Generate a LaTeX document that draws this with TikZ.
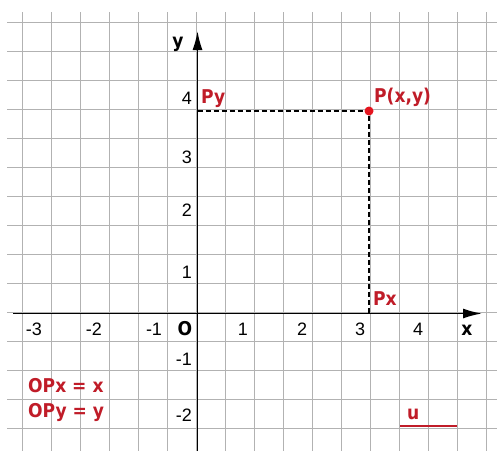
\documentclass[tikz,border=0pt]{standalone}
\usepackage{fontspec}
\setmainfont{Liberation Sans}
\newfontfamily\lblfont[FakeStretch=0.9]{DejaVu Sans}
\usetikzlibrary{arrows.meta}
\definecolor{gridc}{RGB}{178,178,178}
\definecolor{lblred}{RGB}{192,28,40}
\definecolor{dotred}{RGB}{228,20,30}
\begin{document}
\begin{tikzpicture}[x=1pt,y=-1pt,
  gridline/.style={gridc,line width=1.3pt},
  axis/.style={black,line width=1.8pt,-{Latex[length=19pt,width=10pt]}},
  guide/.style={black,line width=1.2pt,dash pattern=on 5pt off 3pt},
  tick/.style={font=\fontsize{18}{18}\selectfont,inner sep=0pt,anchor=base},
  ytick/.style={tick,anchor=base east},
  redlbl/.style={font=\lblfont\bfseries\fontsize{19}{19}\selectfont,text=lblred,inner sep=0pt,anchor=base west},
  axlbl/.style={font=\lblfont\bfseries\fontsize{19}{19}\selectfont,inner sep=0pt,anchor=base},
  dot/.style={circle,fill=dotred,inner sep=0pt,minimum size=9pt}]
\useasboundingbox (0,0) rectangle (497,451);
\fill[white] (0,0) rectangle (497,451);
% grid
\foreach \k in {0,...,16} \draw[gridline] (22.7+29*\k,12) -- (22.7+29*\k,451);
\foreach \k in {0,...,14} \draw[gridline] (7,22.7+29*\k) -- (497,22.7+29*\k);
% axes
\coordinate (xs) at (13,313.5);
\coordinate (xe) at (482,313.5);
\coordinate (ys) at (197.5,451);
\coordinate (ye) at (197.5,31);
\draw[axis] (xs) -- (xe);
\draw[axis] (ys) -- (ye);
% point and guides
\node[dot] (P) at (369,111) {};
\coordinate (Py) at (197.5,111);
\coordinate (Px) at (369,313.5);
\draw[guide] (Py) -- (P);
\draw[guide] (P) -- (Px);
% x tick labels
\node[tick] (tm3) at (34,335) {-3};
\node[tick] (tm2) at (94,335) {-2};
\node[tick] (tm1) at (154,335) {-1};
\node[tick] (t1) at (243,335) {1};
\node[tick] (t2) at (302,335) {2};
\node[tick] (t3) at (360,335) {3};
\node[tick] (t4) at (418,335) {4};
\node[axlbl] (o) at (185,335) {O};
\node[axlbl] (xl) at (467,335) {x};
\node[axlbl] (yl) at (178,47) {y};
% y tick labels
\node[ytick] (y4) at (192,104) {4};
\node[ytick] (y3) at (192,163) {3};
\node[ytick] (y2) at (192,216) {2};
\node[ytick] (y1) at (192,278) {1};
\node[ytick] (ym1) at (192,365) {-1};
\node[ytick] (ym2) at (192,421) {-2};
% red labels
\node[redlbl] (lpy) at (201,103) {Py};
\node[redlbl] (lp) at (374,102) {P(x,y)};
\node[redlbl] (lpx) at (373,305) {Px};
\node[redlbl] (eqx) at (28,392) {OPx = x};
\node[redlbl] (eqy) at (28,417) {OPy = y};
\node[redlbl] (u) at (407,419) {u};
\coordinate (ua) at (400,426);
\coordinate (ub) at (457,426);
\draw[lblred,line width=1.4pt] (ua) -- (ub);
\end{tikzpicture}
\end{document}
